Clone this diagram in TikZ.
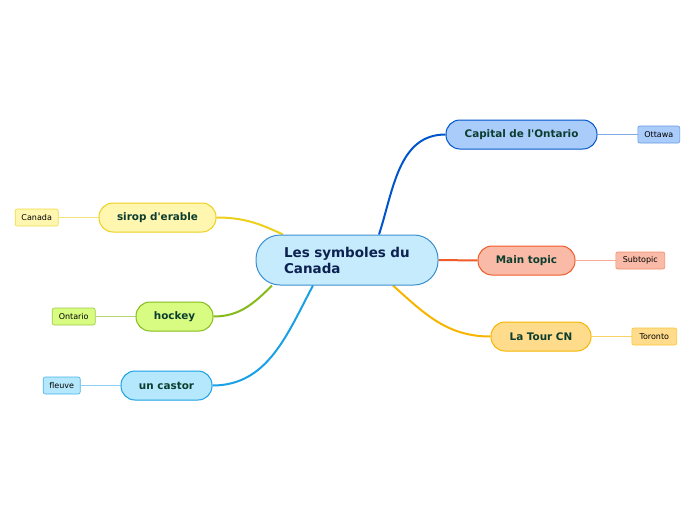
\documentclass[tikz,border=0pt]{standalone}
\usepackage{fontspec}
\setmainfont{DejaVu Sans}
\usepackage{xcolor}
\usetikzlibrary{positioning, backgrounds}

\definecolor{toptext}{HTML}{0B3D2E}
\definecolor{ctrtext}{HTML}{0C2150}
\definecolor{ctrfill}{HTML}{C6EBFC}
\definecolor{ctrline}{HTML}{3A8FD0}
\definecolor{capfill}{HTML}{A9CCFA}
\definecolor{capline}{HTML}{0055CC}
\definecolor{mainfill}{HTML}{F9BBA8}
\definecolor{mainline}{HTML}{F05A28}
\definecolor{tourfill}{HTML}{FEDC8C}
\definecolor{tourline}{HTML}{F7B500}
\definecolor{sirfill}{HTML}{FFF6B0}
\definecolor{sirline}{HTML}{EDD01C}
\definecolor{hockfill}{HTML}{D8FC82}
\definecolor{hockline}{HTML}{86BA1A}
\definecolor{castfill}{HTML}{B5E8FC}
\definecolor{castline}{HTML}{1AA0E5}

\tikzset{
  topic/.style={draw, rounded corners=14pt, line width=1pt, minimum height=29pt,
    inner xsep=0pt, text=toptext, font=\bfseries\fontsize{10.4}{12}\selectfont},
  sub/.style={draw, rounded corners=2pt, line width=0.6pt, minimum height=17pt,
    inner xsep=0pt, text=black, font=\fontsize{8}{9}\selectfont},
  branch/.style={line width=2pt},
  twig/.style={line width=0.8pt}
}

\begin{document}
\begin{tikzpicture}[x=1pt, y=1pt, node distance=40pt]
    \useasboundingbox (0,0) rectangle (696,-520);
    	\node[draw=ctrline, fill=ctrfill, line width=1pt, rounded corners=24pt,
    	  minimum height=50pt, inner xsep=28pt, text width=126pt, align=left,
    	  text=ctrtext, font=\bfseries\fontsize{13.5}{16}\selectfont] (ctr) at (347,-260)
    	  {Les symboles du\\Canada};
    	\node[topic, draw=capline, fill=capfill, minimum width=151pt] (cap) at (521.5,-134.5) {Capital de l\textquotesingle Ontario};
    	\node[topic, draw=mainline, fill=mainfill, minimum width=97pt] (main) at (526.5,-260.5) {Main topic};
    	\node[topic, draw=tourline, fill=tourfill, minimum width=100pt] (tour) at (541,-336.5) {La Tour CN};
    	\node[topic, draw=sirline, fill=sirfill, minimum width=117pt] (sir) at (157.5,-217.5) {sirop d\textquotesingle erable};
    	\node[topic, draw=hockline, fill=hockfill, minimum width=77pt] (hock) at (174.5,-316.5) {hockey};
    	\node[topic, draw=castline, fill=castfill, minimum width=91pt] (cast) at (166.5,-385.5) {un castor};
    %	subtopics
    	\node[sub, draw=capline!60, fill=capfill, minimum width=42pt] (ott) [right=of cap] {Ottawa};
    	\node[sub, draw=mainline!70, fill=mainfill, minimum width=49pt] (subt) [right=of main] {Subtopic};
    	\node[sub, draw=tourline!80, fill=tourfill, minimum width=45pt] (tor) [right=of tour] {Toronto};
    	\node[sub, draw=sirline!80, fill=sirfill, minimum width=43pt] (can) [left=of sir] {Canada};
    	\node[sub, draw=hockline!80, fill=hockfill, minimum width=43pt] (ont) [left=of hock] {Ontario};
    	\node[sub, draw=castline!80, fill=castfill, minimum width=37pt] (fle) [left=of cast] {fleuve};

    \begin{scope}[on background layer]
    	\path[branch]
      ([xshift=32pt]ctr.north) edge[draw=capline, out=72, in=180] (cap.west)
      (ctr.east) edge[draw=mainline] (main.west)
      ([xshift=46pt]ctr.south) edge[draw=tourline, out=-42, in=180] (tour.west)
      ([xshift=-64pt]ctr.north) edge[draw=sirline, out=155, in=0] (sir.east)
      ([xshift=-75pt]ctr.south) edge[draw=hockline, out=-135, in=0] (hock.east)
      ([xshift=-34pt]ctr.south) edge[draw=castline, out=-118, in=0] (cast.east);
    	\path[twig]
      (cap.east) edge[draw=capline!50] (ott.west)
      (main.east) edge[draw=mainline!50] (subt.west)
      (tour.east) edge[draw=tourline!60] (tor.west)
      (sir.west) edge[draw=sirline!60] (can.east)
      (hock.west) edge[draw=hockline!60] (ont.east)
      (cast.west) edge[draw=castline!50] (fle.east);
    \end{scope}
\end{tikzpicture}
\end{document}
